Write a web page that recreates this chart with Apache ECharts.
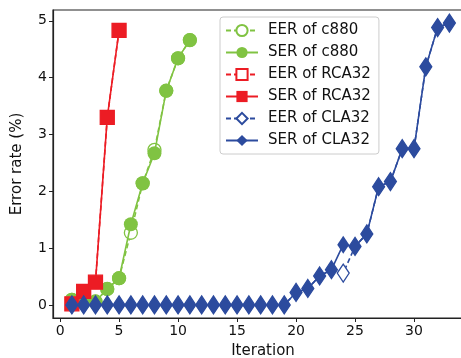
<!DOCTYPE html>
<html><head><meta charset="utf-8">
<script src="https://cdn.jsdelivr.net/npm/echarts@6/dist/echarts.min.js"></script>
<style>html,body{margin:0;padding:0;background:#fff}#c{width:461px;height:358px}</style>
</head><body><div id="c"></div>
<script>
const iterC880 = [1,2,3,4,5,6,7,8,9,10,11];
const eerC880 = [0.09,0.05,0.06,0.28,0.47,1.27,2.14,2.73,3.77,4.34,4.66];
const serC880 = [0.09,0.05,0.06,0.28,0.47,1.42,2.14,2.67,3.77,4.34,4.66];
const iterRCA = [1,2,3,4,5];
const eerRCA = [0.02,0.24,0.40,3.30,4.83];
const serRCA = [0.02,0.24,0.40,3.30,4.83];
const iterCLA = [1,2,3,4,5,6,7,8,9,10,11,12,13,14,15,16,17,18,19,20,21,22,23,24,25,26,27,28,29,30,31,32,33];
const serCLA = [0,0,0,0,0,0,0,0,0,0,0,0,0,0,0,0,0,0,0,0.22,0.29,0.51,0.62,1.06,1.03,1.25,2.08,2.17,2.75,2.75,4.19,4.88,4.96];
const eerCLA = [0,0,0,0,0,0,0,0,0,0,0,0,0,0,0,0,0,0,0,0.22,0.29,0.51,0.62,0.56,1.03,1.25,2.08,2.17,2.75,2.75,4.19,4.88,4.96];
const xTicks = [0,5,10,15,20,25,30];
const yTicks = [0,1,2,3,4,5];

const green='#80c342', red='#ec1c24', blue='#2c4b9e';
const pair=(xs,ys)=>xs.map((x,i)=>[x,ys[i]]);
function ser(name,xs,ys,color,symbol,size,hollow,dashed,z){
  return {name,type:'line',data:pair(xs,ys),z,
    symbol:symbol,symbolSize:size,showSymbol:true,
    lineStyle:{color,width:1.6,type:dashed?[5,3]:'solid'},
    itemStyle:{color:hollow?'#fff':color,borderColor:color,borderWidth:hollow?1.3:0},
    emphasis:{disabled:true},animation:false};
}
const chart=echarts.init(document.getElementById('c'),null,{renderer:'canvas'});
const font='DejaVu Sans';
chart.setOption({
  animation:false,
  textStyle:{fontFamily:font},
  grid:{left:53,top:10,width:420,height:308,outerBoundsMode:'none',containLabel:false,show:true,borderColor:'#222',borderWidth:1.2,backgroundColor:'transparent'},
  xAxis:{type:'value',min:-0.6,max:35,
    name:'Iteration',nameLocation:'middle',nameGap:26,nameTextStyle:{fontSize:15,color:'#111',fontFamily:font},
    axisLine:{show:true,onZero:false,lineStyle:{color:'#222',width:1.2}},
    axisTick:{show:true,inside:false,length:4,customValues:xTicks,lineStyle:{color:'#222'}},
    axisLabel:{customValues:xTicks,fontSize:14,color:'#111',margin:6,fontFamily:font},
    splitLine:{show:false}},
  yAxis:{type:'value',min:-0.23,max:5.19,
    name:'Error rate (%)',nameLocation:'middle',nameGap:28,nameRotate:90,nameTextStyle:{fontSize:15,color:'#111',fontFamily:font},
    axisLine:{show:true,onZero:false,lineStyle:{color:'#222',width:1.2}},
    axisTick:{show:true,inside:false,length:4,customValues:yTicks,lineStyle:{color:'#222'}},
    axisLabel:{customValues:yTicks,fontSize:14,color:'#111',margin:6,fontFamily:font},
    splitLine:{show:false}},
  legend:{orient:'vertical',left:220,top:17,itemWidth:32,itemHeight:14,itemGap:7,
    padding:[6,8,6,5],backgroundColor:'#fff',borderColor:'#ccc',borderWidth:1,borderRadius:3,
    textStyle:{fontSize:15,color:'#111',fontFamily:font,padding:[0,0,0,5]},
    data:['EER of c880','SER of c880','EER of RCA32','SER of RCA32','EER of CLA32','SER of CLA32']},
  series:[
    ser('EER of c880',iterC880,eerC880,green,'circle',13,true,true,1),
    ser('SER of c880',iterC880,serC880,green,'circle',14,false,false,2),
    ser('EER of RCA32',iterRCA,eerRCA,red,'rect',14,true,true,3),
    ser('SER of RCA32',iterRCA,serRCA,red,'rect',14,false,false,4),
    ser('EER of CLA32',iterCLA,eerCLA,blue,'diamond',[12,18],true,true,5),
    ser('SER of CLA32',iterCLA,serCLA,blue,'diamond',[12,18],false,false,6)
  ]
});
</script></body></html>
